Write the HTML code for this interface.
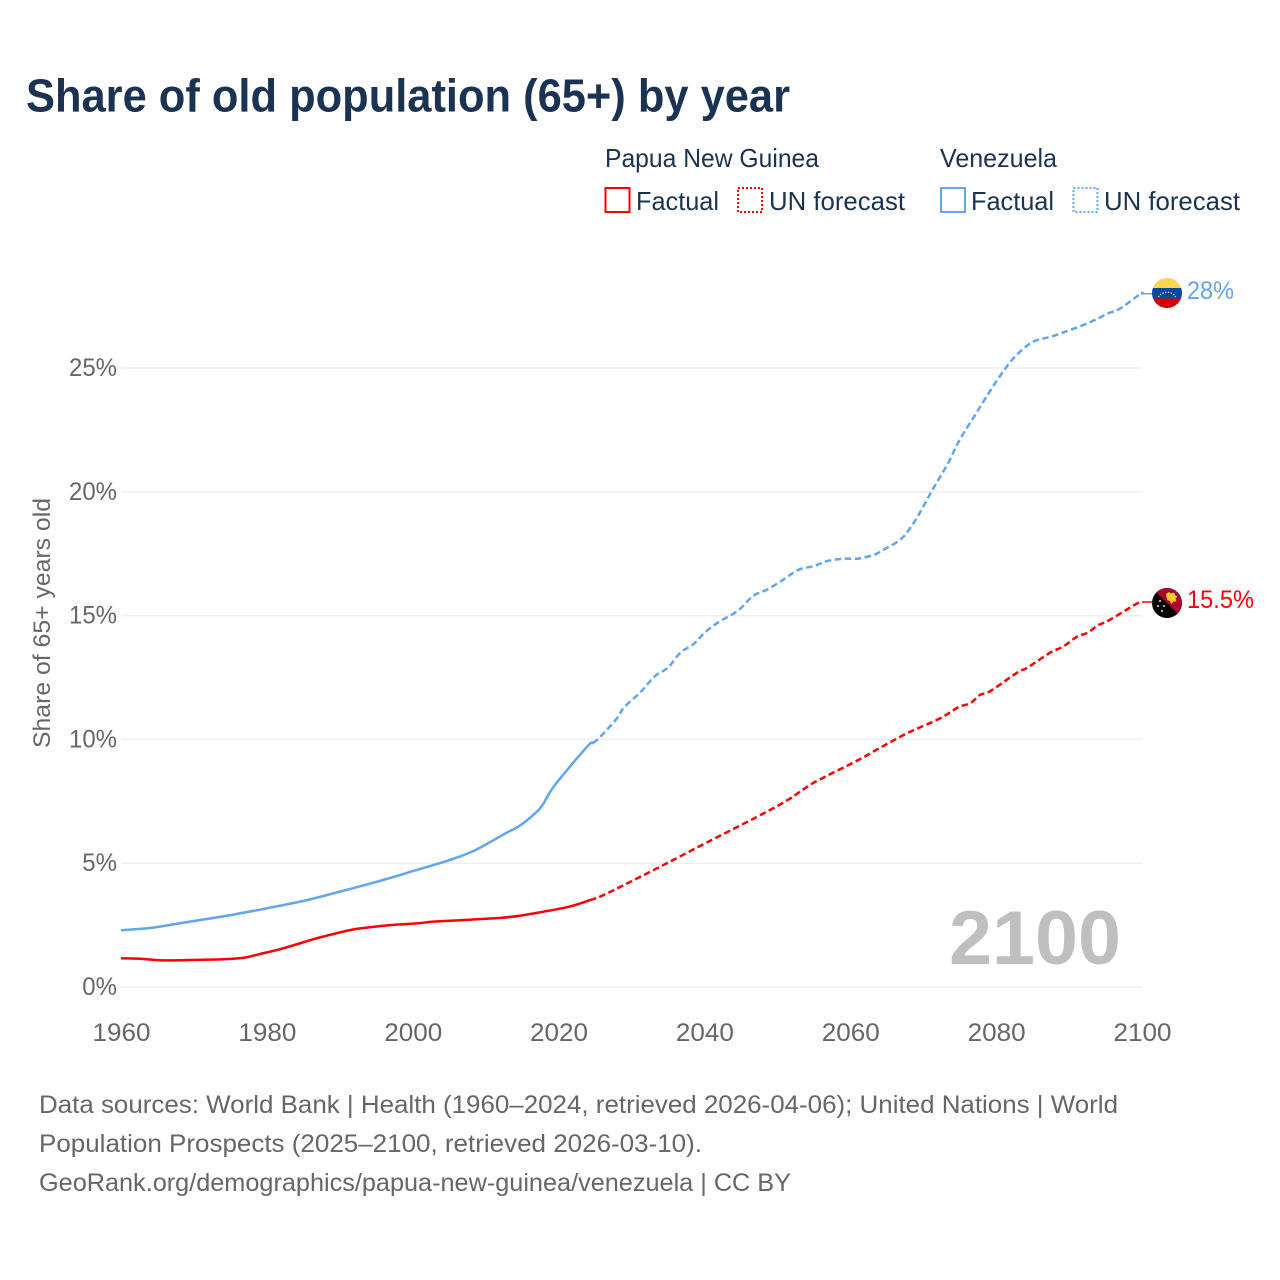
<!DOCTYPE html>
<html lang="en">
<head>
<meta charset="utf-8">
<title>Share of old population (65+) by year</title>
<style>
html,body{margin:0;padding:0;background:#fff;width:1280px;height:1280px;overflow:hidden}
svg{display:block}
text{font-family:"Liberation Sans",sans-serif}
</style>
</head>
<body>
<svg id="chart" xmlns="http://www.w3.org/2000/svg" width="1280" height="1280" viewBox="0 0 1280 1280">
  <defs>
    <clipPath id="ve-clip"><circle cx="1167" cy="293" r="15"/></clipPath>
    <clipPath id="pg-clip"><circle cx="1167" cy="603" r="15"/></clipPath>
  </defs>
  <rect x="0" y="0" width="1280" height="1280" fill="#ffffff"/>
  <text x="26" y="111.5" font-size="46" font-weight="700" fill="#1a3353" textLength="764" lengthAdjust="spacingAndGlyphs">Share of old population (65+) by year</text>

  <g font-size="26" fill="#1a3353">
    <text x="605" y="167" textLength="214" lengthAdjust="spacingAndGlyphs">Papua New Guinea</text>
    <text x="940" y="167" textLength="117" lengthAdjust="spacingAndGlyphs">Venezuela</text>
    <g>
      <rect x="605.5" y="188" width="24" height="24" fill="none" stroke="#ff0000" stroke-width="2"/>
      <text x="636" y="210" textLength="83" lengthAdjust="spacingAndGlyphs">Factual</text>
    </g>
    <g>
      <rect x="738" y="188" width="24" height="24" fill="none" stroke="#ff0000" stroke-width="2" stroke-dasharray="2 2"/>
      <text x="769" y="210" textLength="136" lengthAdjust="spacingAndGlyphs">UN forecast</text>
    </g>
    <g>
      <rect x="941" y="188" width="24" height="24" fill="none" stroke="#60a5ee" stroke-width="2"/>
      <text x="971" y="210" textLength="83" lengthAdjust="spacingAndGlyphs">Factual</text>
    </g>
    <g>
      <rect x="1073.5" y="188" width="24" height="24" fill="none" stroke="#60a5ee" stroke-width="2" stroke-dasharray="2 2"/>
      <text x="1104" y="210" textLength="136" lengthAdjust="spacingAndGlyphs">UN forecast</text>
    </g>
  </g>

  <text transform="translate(50,623) rotate(-90)" text-anchor="middle" font-size="24" fill="#666666" textLength="250" lengthAdjust="spacingAndGlyphs">Share of 65+ years old</text>

  <g id="grid-layer"></g>
  <g id="y-tick-layer"></g>
  <g id="x-tick-layer"></g>

  <text x="949" y="964" font-size="76" font-weight="700" fill="#bfbfbf" textLength="172" lengthAdjust="spacingAndGlyphs">2100</text>

  <g id="series-layer"></g>

  <g clip-path="url(#ve-clip)">
    <rect x="1152" y="278" width="30" height="10" fill="#ffd54f"/>
    <rect x="1152" y="288" width="30" height="10.5" fill="#0d47a1"/>
    <rect x="1152" y="298.5" width="30" height="10" fill="#d50000"/>
    <path d="M1158.5 297A9 7 0 0 1 1175.5 297" fill="none" stroke="#ffffff" stroke-width="1.1" stroke-dasharray="1.2 1.6"/>
  </g>
  <g clip-path="url(#pg-clip)">
    <rect x="1152" y="588" width="30" height="30" fill="#000000"/>
    <polygon points="1150,586 1184,586 1184,620" fill="#a50a2a"/>
    <path d="M1166 594l3-2 2 1.500 3-1 1.500 3 2 1-2 2 1 3-3 0-2 2.500-2-3-2-1-1-3z" fill="#ffca28"/>
    <g fill="#e0e0e0">
      <circle cx="1160" cy="601" r="1"/>
      <circle cx="1164" cy="606" r="1"/>
      <circle cx="1158" cy="606" r="1"/>
      <circle cx="1162" cy="611" r="1"/>
    </g>
  </g>

  <text id="label-ven" x="1187" y="299" font-size="25" fill="#60a5ee" textLength="47" lengthAdjust="spacingAndGlyphs"></text>
  <text id="label-png" x="1187" y="608" font-size="25" fill="#ff0000" textLength="67" lengthAdjust="spacingAndGlyphs"></text>

  <g font-size="25" fill="#666666">
    <text x="39" y="1113" textLength="1079" lengthAdjust="spacingAndGlyphs">Data sources: World Bank | Health (1960–2024, retrieved 2026-04-06); United Nations | World</text>
    <text x="39" y="1152" textLength="663" lengthAdjust="spacingAndGlyphs">Population Prospects (2025–2100, retrieved 2026-03-10).</text>
    <text x="39" y="1191" textLength="752" lengthAdjust="spacingAndGlyphs">GeoRank.org/demographics/papua-new-guinea/venezuela | CC BY</text>
  </g>
</svg>
<script>
const yTicks = [0, 5, 10, 15, 20, 25];
const xTicks = [1960, 1980, 2000, 2020, 2040, 2060, 2080, 2100];

const venFactualYears = [1960,1964.4,1969,1974,1980,1985.5,1991.8,1996.4,2000,2005,2008,2010,2013,2014.7,2016.8,2017.8,2019.5,2023.9,2024.7];
const venFactualValues = [2.29,2.4,2.62,2.85,3.18,3.51,3.99,4.36,4.68,5.12,5.45,5.75,6.25,6.52,7.02,7.35,8.16,9.7,9.85];
const venForecastYears = [2024.7,2025.7,2028,2029,2031.2,2033.2,2035,2036.7,2038.5,2040,2042,2044.6,2046.7,2048.6,2050.8,2052.9,2055,2056.8,2059,2061,2063.2,2064.5,2067,2068.7,2070,2071.4,2073.4,2075,2076.9,2078.8,2080.6,2082.4,2085,2087.9,2092.5,2095.3,2097,2099.8,2100];
const venForecastValues = [9.85,10.1,10.85,11.3,11.9,12.55,12.9,13.5,13.85,14.3,14.75,15.2,15.8,16.05,16.45,16.85,17.0,17.2,17.3,17.3,17.45,17.65,18.1,18.75,19.4,20.15,21.15,22.1,23,23.9,24.7,25.4,26.05,26.3,26.8,27.2,27.4,28,28];

const pngFactualYears = [1960,1962.6,1965.3,1968,1974,1976.8,1979,1982.2,1986.4,1988.2,1991.4,1993.7,1996.9,2000.6,2002.8,2007.4,2012,2014.7,2017.9,2021.1,2023,2024.3];
const pngFactualValues = [1.16,1.14,1.08,1.08,1.12,1.18,1.33,1.56,1.93,2.07,2.3,2.4,2.5,2.57,2.64,2.71,2.79,2.88,3.04,3.22,3.38,3.51];
const pngForecastYears = [2024.3,2025.7,2028.7,2034.2,2041.2,2047.2,2051.4,2055,2061,2064,2067.8,2072.3,2074.8,2076.5,2077.8,2079.2,2082.9,2084.3,2087.4,2089.2,2091.1,2092.5,2093.9,2095.4,2098.8,2099.8,2100];
const pngForecastValues = [3.51,3.65,4.08,4.9,5.97,6.87,7.55,8.25,9.15,9.65,10.25,10.85,11.3,11.47,11.8,11.95,12.7,12.9,13.5,13.75,14.15,14.3,14.6,14.8,15.4,15.55,15.55];

const venEndLabel = "28%";
const pngEndLabel = "15.5%";

const SVG_NS = "http://www.w3.org/2000/svg";
const X0 = 121, X1 = 1142, YEAR0 = 1960, YEAR1 = 2100;
const Y0 = 987, PX_PER_PCT = 24.76;
function xScale(year) { return X0 + (year - YEAR0) * (X1 - X0) / (YEAR1 - YEAR0); }
function yScale(value) { return Y0 - value * PX_PER_PCT; }

const gridLayer = document.getElementById("grid-layer");
const yTickLayer = document.getElementById("y-tick-layer");
const xTickLayer = document.getElementById("x-tick-layer");
const seriesLayer = document.getElementById("series-layer");

yTicks.forEach(function (t) {
  const line = document.createElementNS(SVG_NS, "line");
  
  
  line.setAttribute("x1", X0);
  line.setAttribute("x2", X1);
  line.setAttribute("y1", yScale(t));
  line.setAttribute("y2", yScale(t));
  line.setAttribute("stroke", "#eeeeee");
  line.setAttribute("stroke-width", "1.5");
  gridLayer.appendChild(line);

  const label = document.createElementNS(SVG_NS, "text");
  
  
  label.setAttribute("x", 117);
  label.setAttribute("y", yScale(t) + 8);
  label.setAttribute("text-anchor", "end");
  label.setAttribute("font-size", "25");
  label.setAttribute("fill", "#666666");
  label.textContent = t + "%";
  yTickLayer.appendChild(label);
  label.setAttribute("textLength", (label.getComputedTextLength() * 0.96).toFixed(1));
  label.setAttribute("lengthAdjust", "spacingAndGlyphs");
});

xTicks.forEach(function (t) {
  const label = document.createElementNS(SVG_NS, "text");
  
  
  label.setAttribute("x", xScale(t) + 0.5);
  label.setAttribute("y", 1041);
  label.setAttribute("text-anchor", "middle");
  label.setAttribute("font-size", "25");
  label.setAttribute("fill", "#666666");
  label.setAttribute("textLength", "58");
  label.setAttribute("lengthAdjust", "spacingAndGlyphs");
  label.textContent = t;
  xTickLayer.appendChild(label);
});

// Catmull-Rom smoothing through the read data points
function pathOf(years, values) {
  const pts = years.map(function (yr, i) {
    return [xScale(yr), yScale(values[i])];
  });
  let d = "M" + pts[0][0].toFixed(1) + " " + pts[0][1].toFixed(1);
  for (let i = 0; i < pts.length - 1; i++) {
    const p0 = pts[Math.max(i - 1, 0)];
    const p1 = pts[i];
    const p2 = pts[i + 1];
    const p3 = pts[Math.min(i + 2, pts.length - 1)];
    const c1x = p1[0] + (p2[0] - p0[0]) / 6;
    const c1y = p1[1] + (p2[1] - p0[1]) / 6;
    const c2x = p2[0] - (p3[0] - p1[0]) / 6;
    const c2y = p2[1] - (p3[1] - p1[1]) / 6;
    d += "C" + c1x.toFixed(1) + " " + c1y.toFixed(1) + " " + c2x.toFixed(1) + " " + c2y.toFixed(1) + " " + p2[0].toFixed(1) + " " + p2[1].toFixed(1);
  }
  return d;
}

function drawLine(years, values, color, dashed, name) {
  const line = document.createElementNS(SVG_NS, "path");
  
  
  line.setAttribute("d", pathOf(years, values));
  line.setAttribute("fill", "none");
  line.setAttribute("stroke", color);
  line.setAttribute("stroke-width", "2.5");
  line.setAttribute("stroke-linejoin", "round");
  if (dashed) line.setAttribute("stroke-dasharray", "6.5 3.5");
  seriesLayer.appendChild(line);
}

function drawConnector(value, color, name) {
  const line = document.createElementNS(SVG_NS, "line");
  
  
  line.setAttribute("x1", xScale(YEAR1));
  line.setAttribute("x2", xScale(YEAR1) + 12);
  line.setAttribute("y1", yScale(value));
  line.setAttribute("y2", yScale(value));
  line.setAttribute("stroke", color);
  line.setAttribute("stroke-width", "1.5");
  seriesLayer.appendChild(line);
}

drawLine(venFactualYears, venFactualValues, "#60a5ee", false, "venezuela-factual-line");
drawLine(venForecastYears, venForecastValues, "#60a5ee", true, "venezuela-forecast-line");
drawLine(pngFactualYears, pngFactualValues, "#ff0000", false, "papua-new-guinea-factual-line");
drawLine(pngForecastYears, pngForecastValues, "#ff0000", true, "papua-new-guinea-forecast-line");
drawConnector(venForecastValues[venForecastValues.length - 1], "#60a5ee", "venezuela-label-connector");
drawConnector(pngForecastValues[pngForecastValues.length - 1], "#ff0000", "papua-new-guinea-label-connector");

document.getElementById("label-ven").textContent = venEndLabel;
document.getElementById("label-png").textContent = pngEndLabel;
</script>
</body>
</html>
